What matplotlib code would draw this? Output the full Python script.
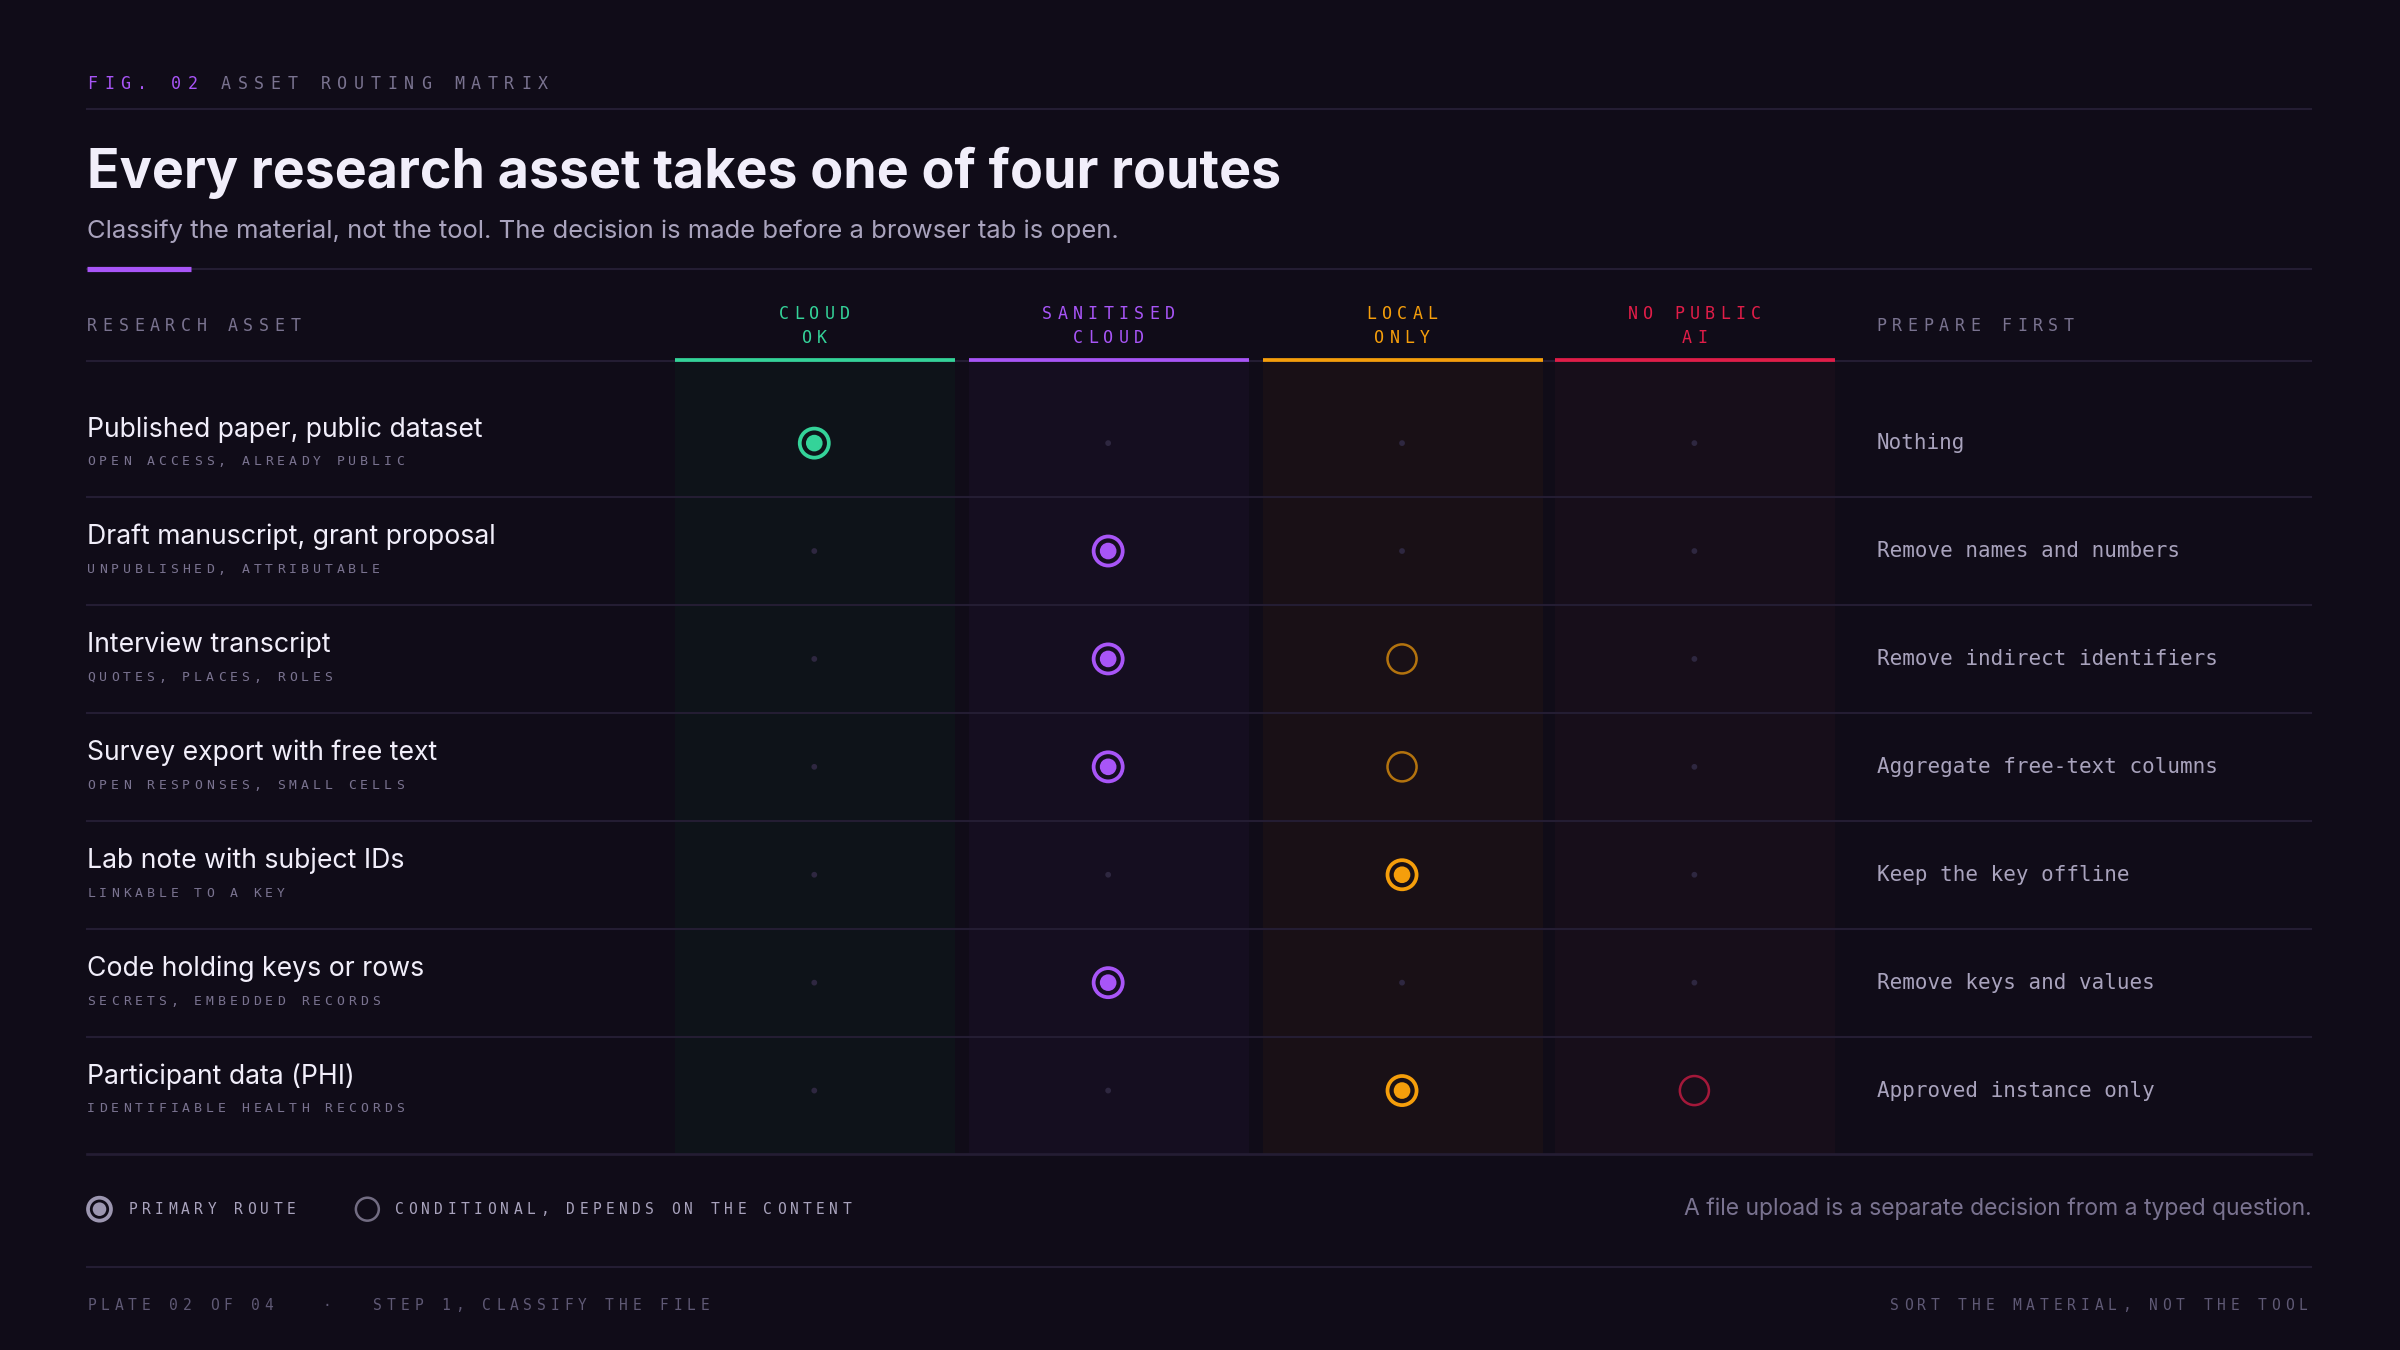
import matplotlib
matplotlib.use("Agg")
import matplotlib.pyplot as plt
from matplotlib.patches import Circle, Rectangle

BG = "#100c18"
GRID = "#241d33"
MUTED = "#7a7390"
SOFT = "#a9a3bd"
WHITE = "#f1eefa"
MONO = "DejaVu Sans Mono"
SANS = "Inter"

# route columns: label lines, colour, background tint
routes = [
    (["CLOUD", "OK"], "#34d399", "#0e1319"),
    (["SANITISED", "CLOUD"], "#a855f7", "#150e20"),
    (["LOCAL", "ONLY"], "#f59e0b", "#191016"),
    (["NO PUBLIC", "AI"], "#e11d48", "#170e1a"),
]
col_x = [532, 724, 916, 1107]

# 2 = primary route, 1 = conditional, 0 = not used
rows = [
    ("Published paper, public dataset", "OPEN ACCESS, ALREADY PUBLIC", [2, 0, 0, 0], "Nothing"),
    ("Draft manuscript, grant proposal", "UNPUBLISHED, ATTRIBUTABLE", [0, 2, 0, 0], "Remove names and numbers"),
    ("Interview transcript", "QUOTES, PLACES, ROLES", [0, 2, 1, 0], "Remove indirect identifiers"),
    ("Survey export with free text", "OPEN RESPONSES, SMALL CELLS", [0, 2, 1, 0], "Aggregate free-text columns"),
    ("Lab note with subject IDs", "LINKABLE TO A KEY", [0, 0, 2, 0], "Keep the key offline"),
    ("Code holding keys or rows", "SECRETS, EMBEDDED RECORDS", [0, 2, 0, 0], "Remove keys and values"),
    ("Participant data (PHI)", "IDENTIFIABLE HEALTH RECORDS", [0, 0, 2, 1], "Approved instance only"),
]


def spaced(ax, x, y, s, step, size, color, ha="left"):
    # letter-spaced mono text, one glyph at a time
    w = step * (len(s) - 1)
    if ha == "center":
        x = x - w / 2
    elif ha == "right":
        x = x - w - step * 0.6
    for i, ch in enumerate(s):
        ax.text(x + i * step, y, ch, fontsize=size, color=color, family=MONO,
                ha="left" if ha == "left" else "center", va="center")


def marker(ax, x, y, kind, color, r=9.5):
    if kind == 2:
        ax.add_patch(Circle((x, y), r, fill=False, ec=color, lw=1.8, zorder=5))
        ax.add_patch(Circle((x, y), r * 0.5, color=color, zorder=5))
    elif kind == 1:
        ax.add_patch(Circle((x, y), r, fill=False, ec=color, lw=1.2, alpha=0.7, zorder=5))
    else:
        ax.add_patch(Circle((x, y), 1.2, color="#2e2740", zorder=5))


fig = plt.figure(figsize=(16, 9), dpi=150, facecolor=BG)
ax = fig.add_axes([0, 0, 1, 1])
ax.set_xlim(0, 1568)
ax.set_ylim(882, 0)
ax.axis("off")
ax.set_facecolor(BG)

# header
spaced(ax, 57, 55, "FIG. 02", 10.9, 8, "#a855f7")
spaced(ax, 57 + 8 * 10.9, 55, "ASSET ROUTING MATRIX", 10.9, 8, MUTED)
ax.plot([57, 1510], [71, 71], color=GRID, lw=1)
ax.text(57, 113, "Every research asset takes one of four routes", fontsize=25.8, weight="bold",
        color=WHITE, family=SANS, va="center")
ax.text(57, 151, "Classify the material, not the tool. The decision is made before a browser tab is open.",
        fontsize=12.3, color=SOFT, family=SANS, va="center")
ax.plot([57, 1510], [176, 176], color=GRID, lw=1)
ax.plot([57, 125], [176, 176], color="#a855f7", lw=2.5, solid_capstyle="butt")

# column header
spaced(ax, 57, 213, "RESEARCH ASSET", 10.2, 8, MUTED)
spaced(ax, 1226, 213, "PREPARE FIRST", 10.2, 8, MUTED)
ax.plot([57, 1510], [236, 236], color=GRID, lw=1)
for (lines, color, tint), cx in zip(routes, col_x):
    for j, line in enumerate(lines):
        spaced(ax, cx, 205 + 16 * j, line, 10, 8, color, ha="center")
    ax.add_patch(Rectangle((cx - 91, 236), 183, 518, color=tint, lw=0, zorder=1))
    ax.plot([cx - 91, cx + 92], [235, 235], color=color, lw=1.8, solid_capstyle="butt", zorder=3)

# rows
top, step = 254.5, 70.5
for i, (name, sub, marks, prep) in enumerate(rows):
    yc = top + step * i + 35
    ax.text(57, yc - 9, name, fontsize=12.8, color=WHITE, family=SANS, va="center")
    spaced(ax, 57, yc + 12, sub, 7.75, 6.3, MUTED)
    for k, (cx, m) in enumerate(zip(col_x, marks)):
        marker(ax, cx, yc, m, routes[k][1])
    ax.text(1226, yc, prep, fontsize=10, color=SOFT, family=MONO, va="center")
    last = i == len(rows) - 1
    yl = 754 if last else top + step * (i + 1)
    ax.plot([57, 1510], [yl, yl], color=GRID, lw=1.3 if last else 1, zorder=4)

# legend
marker(ax, 65, 790, 2, "#9c96b0", r=7.5)
spaced(ax, 84, 790, "PRIMARY ROUTE", 8.6, 7, SOFT)
marker(ax, 240, 790, 1, "#9c96b0", r=7.5)
spaced(ax, 258, 790, "CONDITIONAL, DEPENDS ON THE CONTENT", 8.6, 7, SOFT)
ax.text(1510, 790, "A file upload is a separate decision from a typed question.", fontsize=11,
        color=MUTED, family=SANS, ha="right", va="center")
ax.plot([57, 1510], [828, 828], color=GRID, lw=1)

# footer
spaced(ax, 57, 853, "PLATE 02 OF 04", 8.9, 7, "#5f5975")
spaced(ax, 211, 853, "·", 8.9, 7, "#5f5975")
spaced(ax, 244, 853, "STEP 1, CLASSIFY THE FILE", 8.9, 7, "#5f5975")
spaced(ax, 1510, 853, "SORT THE MATERIAL, NOT THE TOOL", 8.9, 7, "#5f5975", ha="right")

fig.savefig("out.png", dpi=150, facecolor=BG)
